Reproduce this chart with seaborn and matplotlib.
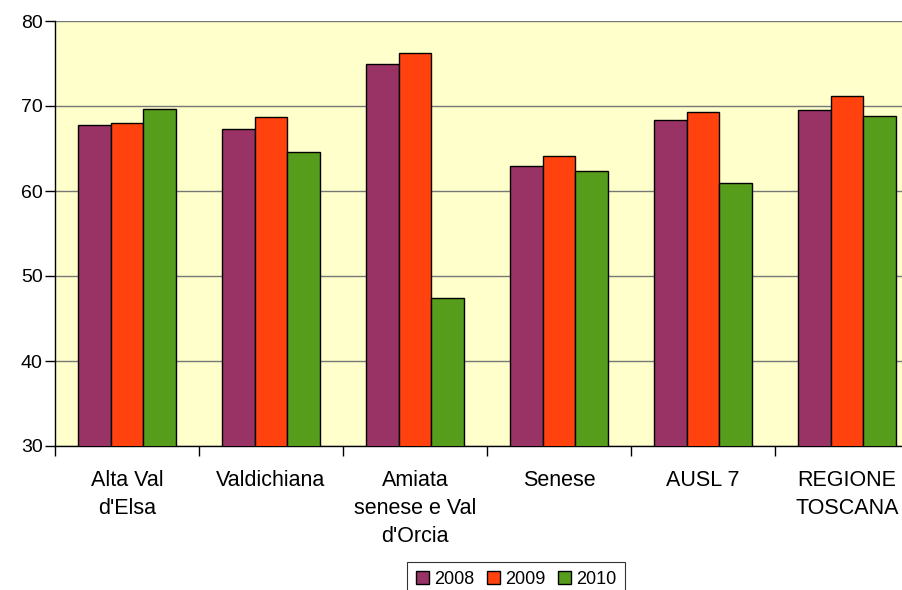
import matplotlib
matplotlib.use("Agg")
import matplotlib.pyplot as plt
import seaborn as sns
import pandas as pd
import numpy as np
from matplotlib.ticker import FixedLocator

categories = ["Alta Val\nd'Elsa", "Valdichiana", "Amiata\nsenese e Val\nd'Orcia",
              "Senese", "AUSL 7", "REGIONE\nTOSCANA"]
years = ["2008", "2009", "2010"]
v2008 = [67.8, 67.3, 74.9, 62.9, 68.3, 69.5]
v2009 = [68.0, 68.7, 76.2, 64.1, 69.3, 71.2]
v2010 = [69.6, 64.6, 47.4, 62.4, 61.0, 68.8]
colors = ["#993366", "#FF420E", "#579D1C"]
yticks = [30, 40, 50, 60, 70, 80]

rows = []
for yr, vals in zip(years, [v2008, v2009, v2010]):
    for c, v in zip(categories, vals):
        rows.append({"cat": c, "year": yr, "val": v})
df = pd.DataFrame(rows)

sns.set_style("white")
plt.rcParams["font.family"] = ["Liberation Sans", "DejaVu Sans"]
plt.rcParams["text.color"] = "black"
plt.rcParams["xtick.color"] = "black"
plt.rcParams["ytick.color"] = "black"

W, H = 903, 590
fig = plt.figure(figsize=(W / 100, H / 100), dpi=100)
ax = fig.add_axes([55 / W, 1 - 446 / H, 864 / W, (446 - 21) / H])
ax.set_facecolor("#FFFFCC")

sns.barplot(data=df, x="cat", y="val", hue="year", palette=colors,
            width=0.674, gap=0, edgecolor="black", linewidth=1.0,
            saturation=1, ax=ax, legend=True, zorder=3)

ax.set_ylim(30, 80)
ax.set_xlim(-0.5, 5.5)
ax.set_yticks(yticks)
ax.yaxis.grid(True, color="#777777", linewidth=1.0, zorder=0)
ax.set_axisbelow(True)
ax.set_xlabel("")
ax.set_ylabel("")

for s in ["top", "right"]:
    ax.spines[s].set_visible(False)
for s in ["left", "bottom"]:
    ax.spines[s].set_color("black")
    ax.spines[s].set_linewidth(1.0)

ax.tick_params(axis="y", which="major", direction="out", length=7, width=1,
               color="black", labelsize=14, pad=2, left=True)
ax.tick_params(axis="x", which="major", length=0, labelsize=15.5, pad=17)
ax.xaxis.set_minor_locator(FixedLocator(np.arange(-0.5, 6.0, 1.0)))
ax.tick_params(axis="x", which="minor", direction="out", length=7, width=1,
               color="black", bottom=True)
for lab in ax.get_xticklabels():
    lab.set_linespacing(1.45)

h, l = ax.get_legend_handles_labels()
ax.get_legend().remove()
leg = fig.legend(h, l, loc="lower center", bbox_to_anchor=(516 / W, -0.012),
                 ncol=3, fontsize=13, frameon=True, fancybox=False,
                 handlelength=0.75, handleheight=0.75, handletextpad=0.25,
                 columnspacing=0.7, borderpad=0.5, borderaxespad=0)
leg.get_frame().set_edgecolor("black")
leg.get_frame().set_linewidth(0.8)

fig.savefig("out.png", dpi=100, facecolor="white")
